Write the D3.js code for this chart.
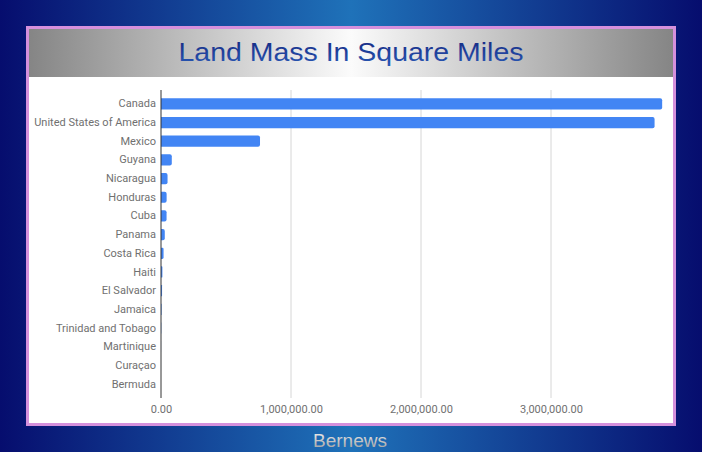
<!DOCTYPE html>
<html>
<head>
<meta charset="utf-8">
<script src="https://cdn.jsdelivr.net/npm/d3@7"></script>
<style>
  html, body { margin: 0; padding: 0; background: #06106f; }
  svg { display: block; }
</style>
</head>
<body>
<svg id="chart" width="702" height="452"></svg>
<script>
const categories = ["Canada", "United States of America", "Mexico", "Guyana", "Nicaragua", "Honduras", "Cuba", "Panama", "Costa Rica", "Haiti", "El Salvador", "Jamaica", "Trinidad and Tobago", "Martinique", "Curaçao", "Bermuda"];
const landMass = [3855103, 3796742, 761610, 83000, 50337, 43278, 42803, 29120, 19730, 10714, 8124, 4244, 1981, 436, 171, 21];
const tickValues = [0, 1000000, 2000000, 3000000];
const titleText = "Land Mass In Square Miles";
const footerText = "Bernews";

const svg = d3.select("#chart");
const defs = svg.append("defs");

const bg = defs.append("linearGradient").attr("id", "bgGrad").attr("x1", "0").attr("x2", "1").attr("y1", "0").attr("y2", "0");
bg.append("stop").attr("offset", "0").attr("stop-color", "#060d6e");
bg.append("stop").attr("offset", "0.5").attr("stop-color", "#1f72b9");
bg.append("stop").attr("offset", "1").attr("stop-color", "#060d6e");

const band = defs.append("linearGradient").attr("id", "bandGrad").attr("x1", "0").attr("x2", "1").attr("y1", "0").attr("y2", "0");
band.append("stop").attr("offset", "0").attr("stop-color", "#858585");
band.append("stop").attr("offset", "0.5").attr("stop-color", "#fbfbfb");
band.append("stop").attr("offset", "1").attr("stop-color", "#858585");

const tg = defs.append("linearGradient").attr("id", "titleGrad").attr("x1", "0").attr("x2", "0").attr("y1", "0").attr("y2", "1");
tg.append("stop").attr("offset", "0").attr("stop-color", "#13257e");
tg.append("stop").attr("offset", "1").attr("stop-color", "#2a5cb8");

const fg = defs.append("linearGradient").attr("id", "footGrad").attr("x1", "0").attr("x2", "0").attr("y1", "0").attr("y2", "1");
fg.append("stop").attr("offset", "0").attr("stop-color", "#f4f4f4");
fg.append("stop").attr("offset", "1").attr("stop-color", "#9a9a9a");

// background
svg.append("rect").attr("x", 0).attr("y", 0).attr("width", 702).attr("height", 452).attr("fill", "url(#bgGrad)");

// panel border + white body
svg.append("rect").attr("x", 26).attr("y", 26).attr("width", 650).attr("height", 400).attr("fill", "#d590dc");
svg.append("rect").attr("x", 29).attr("y", 29).attr("width", 644).attr("height", 394).attr("fill", "#ffffff");
svg.append("rect").attr("x", 29).attr("y", 29).attr("width", 644).attr("height", 48).attr("fill", "url(#bandGrad)");

svg.append("text")
  .attr("x", 351).attr("y", 61)
  .attr("text-anchor", "middle")
  .attr("font-family", "Liberation Sans, Arial, sans-serif")
  .attr("font-size", 26.5)
  .attr("textLength", 345).attr("lengthAdjust", "spacingAndGlyphs")
  .attr("fill", "url(#titleGrad)")
  .text(titleText);

// scales
const x = d3.scaleLinear().domain([0, 4000000]).range([161, 681]);
const y = d3.scaleBand().domain(categories).range([94.5, 393.4]).paddingInner(0.4).paddingOuter(0.2);

const gridTop = 90, gridBottom = 398;

// gridlines
svg.append("g").selectAll("line")
  .data(tickValues.filter(d => d > 0))
  .join("line")
  .attr("x1", d => x(d)).attr("x2", d => x(d))
  .attr("y1", gridTop).attr("y2", gridBottom)
  .attr("stroke", "#d6d6d6").attr("stroke-width", 1);

// bars with rounded right end
function barPath(d, i) {
  const x0 = x(0), x1 = x(d), yy = y(categories[i]), h = y.bandwidth();
  const r = Math.min(2, (x1 - x0) / 2, h / 2);
  return `M${x0},${yy}H${x1 - r}Q${x1},${yy} ${x1},${yy + r}V${yy + h - r}Q${x1},${yy + h} ${x1 - r},${yy + h}H${x0}Z`;
}
svg.append("g").selectAll("path")
  .data(landMass)
  .join("path")
  .attr("d", (d, i) => barPath(d, i))
  .attr("fill", "#4285f4");

// y axis (labels)
const yAxis = d3.axisLeft(y).tickSize(0).tickPadding(5);
const gy = svg.append("g").attr("transform", "translate(161,0)").call(yAxis);
gy.select(".domain").remove();
gy.selectAll("text")
  .attr("font-family", "Roboto, sans-serif")
  .attr("font-size", 11)
  .attr("fill", "#707070");

// zero axis line
svg.append("line")
  .attr("x1", x(0)).attr("x2", x(0))
  .attr("y1", gridTop).attr("y2", gridBottom)
  .attr("stroke", "#333333").attr("stroke-width", 1);

// x axis (tick labels)
const xAxis = d3.axisBottom(x).tickValues(tickValues).tickSize(0).tickPadding(0).tickFormat(d3.format(",.2f"));
const gx = svg.append("g").attr("transform", `translate(0,${gridBottom + 7})`).call(xAxis);
gx.select(".domain").remove();
gx.selectAll("text")
  .attr("font-family", "Roboto, sans-serif")
  .attr("font-size", 11)
  .attr("fill", "#707070");

// footer
svg.append("text")
  .attr("x", 350).attr("y", 447)
  .attr("text-anchor", "middle")
  .attr("font-family", "Liberation Sans, Arial, sans-serif")
  .attr("font-size", 19)
  .attr("fill", "url(#footGrad)")
  .text(footerText);
</script>
</body>
</html>
